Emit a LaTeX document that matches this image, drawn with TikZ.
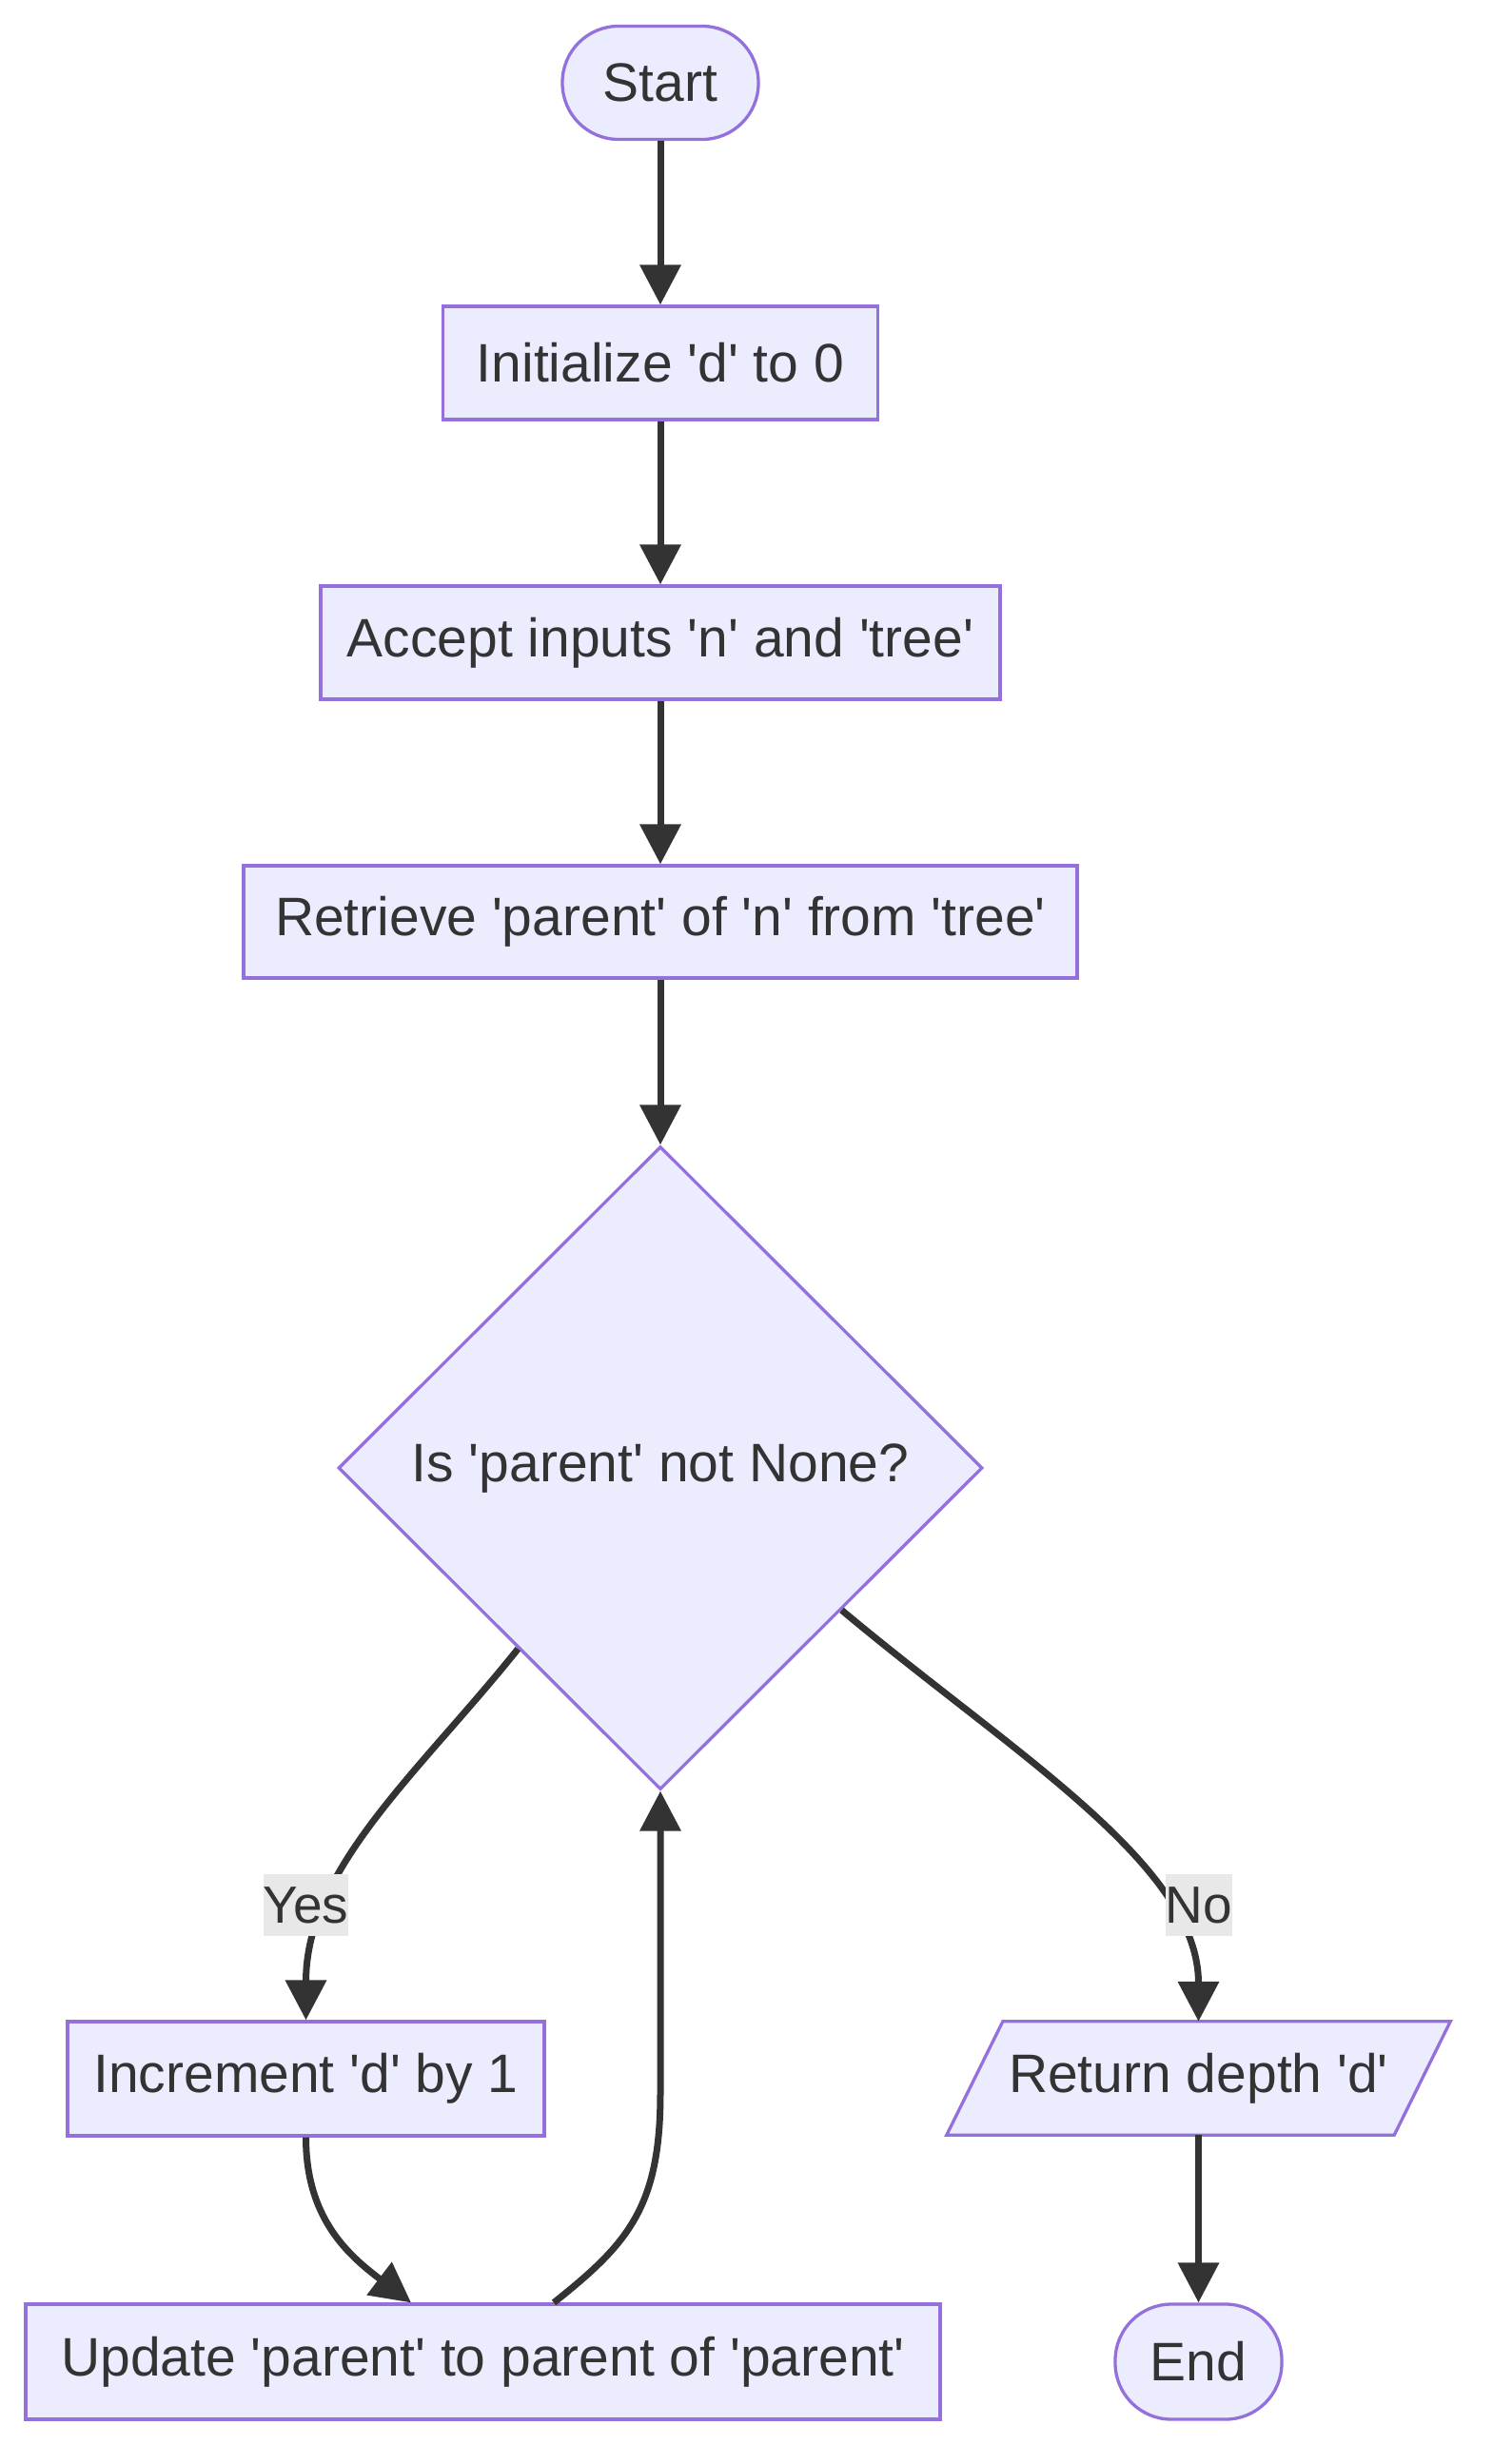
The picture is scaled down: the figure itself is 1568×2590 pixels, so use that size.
\documentclass[tikz,border=0pt]{standalone}
\usepackage{fontspec}
\setmainfont{Liberation Sans}[Ligatures=TeXOff]
\usetikzlibrary{shapes.geometric,arrows.meta,calc,backgrounds}
\definecolor{nodefill}{HTML}{ECECFF}
\definecolor{nodeline}{HTML}{9370DB}
\definecolor{edgecol}{HTML}{333333}
\definecolor{labelbg}{HTML}{E8E8E8}
\begin{document}
\begin{tikzpicture}[x=1pt,y=-1pt,
  every node/.style={text=edgecol, font=\fontsize{57}{68}\selectfont},
  box/.style={draw=nodeline, fill=nodefill, line width=3.3pt, inner sep=0pt, minimum height=119pt},
  term/.style={box, rounded corners=59pt},
  decide/.style={diamond, aspect=1, draw=nodeline, fill=nodefill, line width=3.3pt, inner sep=0pt, minimum width=677pt, minimum height=676pt},
  flow/.style={draw=edgecol, line width=7pt, -{Triangle[length=42pt,width=42pt]}},
  lbl/.style={fill=labelbg, inner xsep=0pt, inner ysep=0pt, minimum height=65pt, font=\fontsize{55}{66}\selectfont}
]
\useasboundingbox (0,0) rectangle (1568,2590);
\node[term, minimum width=206pt] (start) at (694,87) {Start};
\node[box, minimum width=457pt] (init) at (694,381.5) {Initialize 'd' to 0};
\node[box, minimum width=714pt] (accept) at (694,675.5) {Accept inputs 'n' and 'tree'};
\node[box, minimum width=876pt, minimum height=118pt] (retrieve) at (694,969) {Retrieve 'parent' of 'n' from 'tree'};
\node[decide] (check) at (694,1543) {Is 'parent' not None?};
\node[box, minimum width=501pt, minimum height=120pt] (inc) at (321.5,2185) {Increment 'd' by 1};
\node[box, minimum width=961pt, minimum height=121pt] (update) at (507.5,2482.5) {Update 'parent' to parent of 'parent'};
\node[inner sep=0pt, minimum width=529pt, minimum height=119pt] (ret) at (1259.5,2184.5) {Return depth 'd'};
\node[term, minimum width=175pt, minimum height=121pt] (end) at (1259.5,2482.5) {End};
\begin{scope}[on background layer]
\fill[white] (0,0) rectangle (1568,2590);
\draw[draw=nodeline, fill=nodefill, line width=3.3pt] ([xshift=59pt]ret.north west) -- (ret.north east) -- ([xshift=-59pt]ret.south east) -- (ret.south west) -- cycle;
\end{scope}
\coordinate (loopturn) at (694,2200);
\draw[flow] (start.south) -- (init.north);
\draw[flow] (init.south) -- (accept.north);
\draw[flow] (accept.south) -- (retrieve.north);
\draw[flow] (retrieve.south) -- (check.north);
\draw[flow] ($(check.south west)!0.12!(check.south)$) .. controls +(-104,130) and +(0,-160) .. (inc.north);
\draw[flow] ($(check.south east)!0.12!(check.east)$) .. controls +(179,150) and +(0,-165) .. (ret.north);
\draw[flow] (inc.south) .. controls +(0,85) and +(-66,-50) .. ([xshift=-75.5pt]update.north);
\draw[flow] ([xshift=74.5pt]update.north) .. controls +(78,-62) and +(0,120) .. (loopturn) -- (check.south);
\draw[flow] (ret.south) -- (end.north);
\node[lbl] (yes) at (321.5,2002.5) {Yes};
\node[lbl] (no) at (1260,2002.5) {No};
\end{tikzpicture}
\end{document}
